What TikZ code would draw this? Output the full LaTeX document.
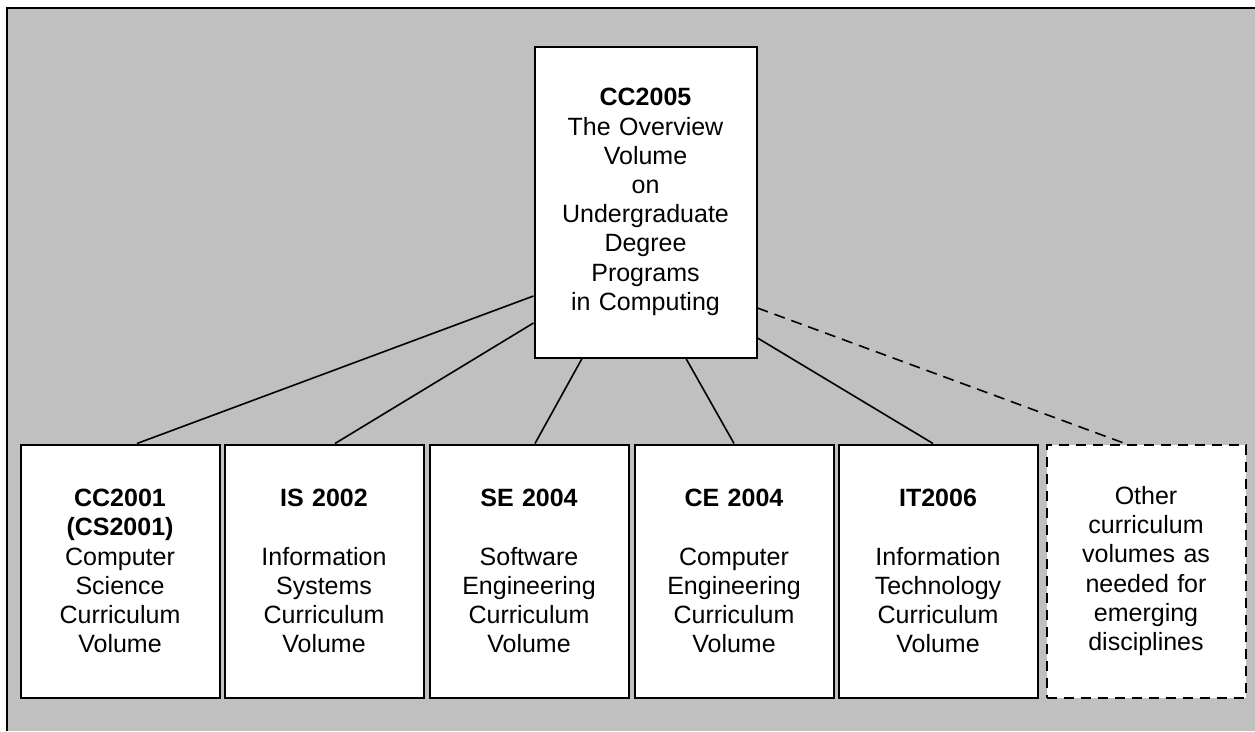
\documentclass[tikz,border=0pt]{standalone}
\usepackage{fontspec}
\setmainfont{Liberation Sans}
\usetikzlibrary{calc}
\begin{document}
\begin{tikzpicture}[x=1pt,y=-1pt,
  box/.style={draw=black,line width=2pt,fill=white,inner sep=0pt,
    minimum width=199pt,minimum height=253pt,text width=195pt,align=center,
    font=\fontsize{25}{29.2}\selectfont},
  dbox/.style={box,dash pattern=on 10pt off 7pt},
  link/.style={line width=1.6pt},
  dlink/.style={link,dash pattern=on 11pt off 7pt}]
\useasboundingbox (0,0) rectangle (1255,731);
\fill[white] (0,0) rectangle (1255,731);
\fill[fill={rgb,255:red,192;green,192;blue,192}] (7,8) rectangle (1255,731);
\draw[line width=2pt] (7,731) -- (7,8) -- (1255,8);

\node[box,minimum width=222pt,minimum height=311pt,text width=218pt] (top) at (645.5,202)
  {\textbf{CC2005}\\The Overview\\Volume\\on\\Undergraduate\\Degree\\Programs\\in Computing};

\node[box] (b1) at (120,571) {\textbf{CC2001}\\\textbf{(CS2001)}\\Computer\\Science\\Curriculum\\Volume};
\node[box] (b2) at (324,571) {\textbf{IS 2002}\\[29.2pt]Information\\Systems\\Curriculum\\Volume};
\node[box] (b3) at (529,571) {\textbf{SE 2004}\\[29.2pt]Software\\Engineering\\Curriculum\\Volume};
\node[box] (b4) at (734,571) {\textbf{CE 2004}\\[29.2pt]Computer\\Engineering\\Curriculum\\Volume};
\node[box] (b5) at (938,571) {\textbf{IT2006}\\[29.2pt]Information\\Technology\\Curriculum\\Volume};
\node[dbox] (b6) at (1146,571) {Other\\curriculum\\volumes as\\needed for\\emerging\\disciplines};

\draw[link] ([yshift=-94pt]top.west) -- ([xshift=17pt]b1.north);
\draw[link] ([yshift=-121pt]top.west) -- ([xshift=11pt]b2.north);
\draw[link] ([xshift=-63.5pt]top.south) -- ([xshift=6pt]b3.north);
\draw[link] ([xshift=40.5pt]top.south) -- (b4.north);
\draw[link] ([yshift=-136pt]top.east) -- ([xshift=-5pt]b5.north);
\draw[dlink] ([yshift=-106pt]top.east) -- ([xshift=-21pt]b6.north);
\end{tikzpicture}
\end{document}
